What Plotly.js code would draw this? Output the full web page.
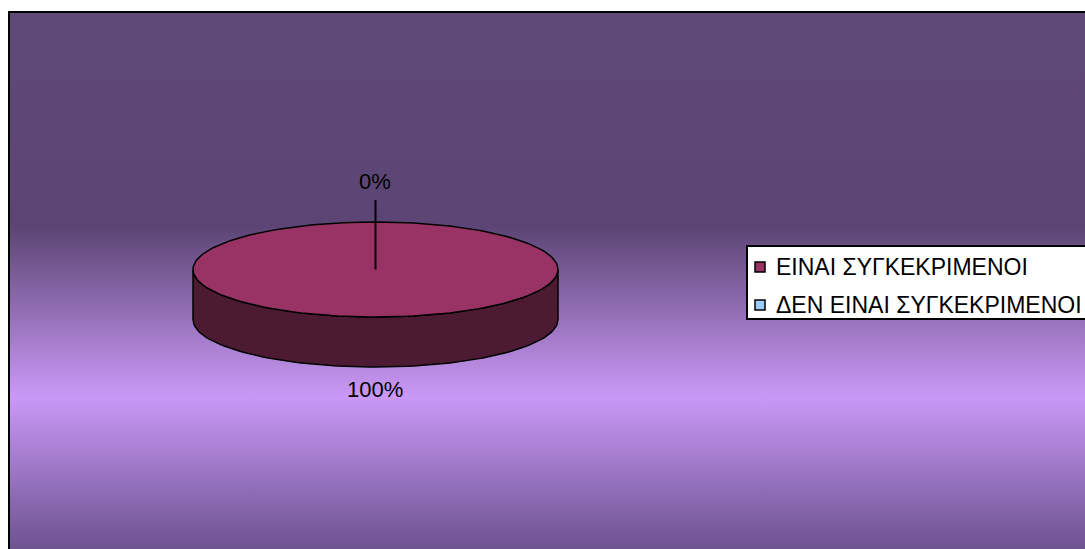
<!DOCTYPE html>
<html>
<head>
<meta charset="utf-8">
<script src="https://cdn.plot.ly/plotly-3.0.1.min.js"></script>
<style>
  html, body { margin: 0; padding: 0; background: #ffffff; overflow: hidden; }
  #bg {
    position: absolute; left: 8px; top: 11px; width: 1100px; height: 560px;
    border: 2px solid #000;
    background: linear-gradient(to bottom, #5F4979 0px, #5C4574 214px, #CA98F7 384px, #6D5290 536px);
  }
  #chart { position: absolute; left: 0; top: 0; width: 1085px; height: 549px; }
</style>
</head>
<body>
<div id="bg"></div>
<div id="chart"></div>
<script>
// ---- data ----
const categories = ["ΕΙΝΑΙ ΣΥΓΚΕΚΡΙΜΕΝΟΙ", "ΔΕΝ ΕΙΝΑΙ ΣΥΓΚΕΚΡΙΜΕΝΟΙ"];
const values = [100, 0];
const percentLabels = ["100%", "0%"];
const topColors = ["#993366", "#99CCFF"];
const sideColors = ["#4D1A33", "#4D6680"];

// ---- geometry (layout constants, pixels) ----
const cx = 375.5, cy = 269.5, rx = 182.5, ry = 47.5, depth = 50;
const FONT = "Liberation Sans, Arial, sans-serif";

const total = values.reduce((a, b) => a + b, 0);
const deg = Math.PI / 180;
function pt(t, dy) { return [cx + rx * Math.sin(t * deg), cy - ry * Math.cos(t * deg) + (dy || 0)]; }
function arc(t0, t1, dy) {
  const pts = [];
  const n = Math.max(2, Math.ceil(Math.abs(t1 - t0) / 2));
  for (let i = 0; i <= n; i++) pts.push(pt(t0 + (t1 - t0) * i / n, dy));
  return pts;
}

const sideTraces = [], topTraces = [];
let start = 0;
values.forEach((v, i) => {
  const sweep = 360 * v / total;
  const t0 = start, t1 = start + sweep;
  // side wall (front half only, 90..270 deg clockwise from top)
  const a = Math.max(t0, 90), b = Math.min(t1, 270);
  if (b > a) {
    const top = arc(a, b, 0), bot = arc(b, a, depth);
    const poly = top.concat(bot); poly.push(top[0]);
    sideTraces.push({
      type: "scatter", mode: "lines", fill: "toself",
      x: poly.map(p => p[0]), y: poly.map(p => p[1]),
      fillcolor: sideColors[i], line: { color: "#000", width: 1.5 },
      hoverinfo: "skip", showlegend: false
    });
  }
  if (sweep > 0) {
    let poly = arc(t0, t1, 0);
    if (sweep < 360) { poly = [[cx, cy]].concat(poly); poly.push([cx, cy]); }
    topTraces.push({
      type: "scatter", mode: "lines", fill: "toself",
      x: poly.map(p => p[0]), y: poly.map(p => p[1]),
      fillcolor: topColors[i], line: { color: "#000", width: 1.5 },
      hoverinfo: "skip", showlegend: false
    });
  }
  start = t1;
});

// label positions (layout)
const labelPos = [[375, 389], [375, 181]];
const annotations = percentLabels.map((t, i) => ({
  x: labelPos[i][0], y: labelPos[i][1], xref: "x", yref: "y",
  text: t, showarrow: false, font: { family: FONT, size: 22, color: "#000" },
  xanchor: "center", yanchor: "middle"
}));

// legend (manual, Excel style)
const legX = 747, legY = 246, legRow0 = 267, legRowGap = 38;
const shapes = [
  { type: "line", xref: "x", yref: "y", x0: cx, x1: cx, y0: cy, y1: 200, line: { color: "#000", width: 2 } },
  { type: "rect", xref: "x", yref: "y", x0: legX, x1: 1110, y0: legY, y1: 319, line: { color: "#000", width: 2 }, fillcolor: "#ffffff" }
];
categories.forEach((c, i) => {
  const yc = legRow0 + i * legRowGap;
  shapes.push({ type: "rect", xref: "x", yref: "y", x0: 755, x1: 765, y0: yc - 5, y1: yc + 5,
    line: { color: "#000", width: 1.5 }, fillcolor: topColors[i] });
  annotations.push({ x: 774, y: yc, xref: "x", yref: "y", text: c, showarrow: false,
    xanchor: "left", yanchor: "middle", font: { family: FONT, size: 23, color: "#000" } });
});

const layout = {
  width: 1085, height: 549,
  margin: { l: 0, r: 0, t: 0, b: 0 },
  paper_bgcolor: "rgba(0,0,0,0)", plot_bgcolor: "rgba(0,0,0,0)",
  xaxis: { range: [0, 1085], visible: false, fixedrange: true },
  yaxis: { range: [549, 0], visible: false, fixedrange: true },
  showlegend: false,
  shapes: shapes,
  annotations: annotations
};

Plotly.newPlot("chart", sideTraces.concat(topTraces), layout, { displayModeBar: false, staticPlot: true });
</script>
</body>
</html>
